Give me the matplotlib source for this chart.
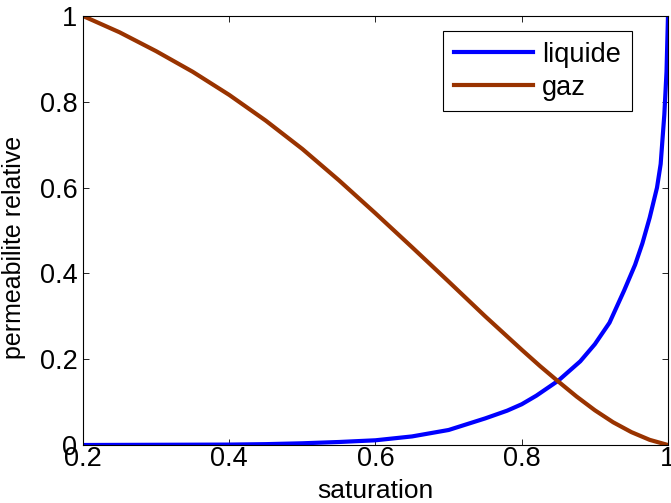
"""
Relative permeability curves (liquid / gas) versus saturation.
"""

import matplotlib
matplotlib.use("Agg")
import matplotlib.pyplot as plt


# =============================
# DATA
# =============================

SAT_LIQUIDE = [0.2, 0.3, 0.4, 0.45, 0.5, 0.55, 0.6, 0.65, 0.7, 0.75, 0.78,
               0.8, 0.82, 0.85, 0.88, 0.9, 0.92, 0.94, 0.955, 0.965, 0.975,
               0.985, 0.99, 0.995, 0.998, 1.0]
KR_LIQUIDE = [0.0, 0.0005, 0.001, 0.002, 0.004, 0.007, 0.011, 0.02, 0.035,
              0.062, 0.08, 0.095, 0.115, 0.15, 0.195, 0.235, 0.285, 0.36,
              0.42, 0.47, 0.53, 0.60, 0.655, 0.77, 0.87, 1.0]

SAT_GAZ = [0.2, 0.25, 0.3, 0.35, 0.4, 0.45, 0.5, 0.55, 0.6, 0.65, 0.7,
           0.75, 0.8, 0.825, 0.85, 0.875, 0.9, 0.925, 0.95, 0.975, 1.0]
KR_GAZ = [1.0, 0.962, 0.918, 0.870, 0.816, 0.756, 0.690, 0.617, 0.540,
          0.461, 0.381, 0.300, 0.222, 0.184, 0.148, 0.113, 0.081, 0.053,
          0.030, 0.012, 0.0]

X_TICKS = [0.2, 0.4, 0.6, 0.8, 1.0]
X_TICK_LABELS = ["0.2", "0.4", "0.6", "0.8", "1"]
Y_TICKS = [0, 0.2, 0.4, 0.6, 0.8, 1.0]
Y_TICK_LABELS = ["0", "0.2", "0.4", "0.6", "0.8", "1"]


# =============================
# PLOT
# =============================

plt.rcParams["font.family"] = ["Liberation Sans", "DejaVu Sans"]

fig = plt.figure(figsize=(6.71, 5.03), dpi=100)
ax = fig.add_axes([0.1237, 0.1153, 0.8718, 0.8529])

ax.plot(SAT_LIQUIDE, KR_LIQUIDE, color="#0000ff", lw=3.0, label="liquide")
ax.plot(SAT_GAZ, KR_GAZ, color="#993300", lw=3.0, label="gaz")

ax.set_xlim(0.2, 1.0)
ax.set_ylim(0, 1.0)
ax.set_xticks(X_TICKS)
ax.set_xticklabels(X_TICK_LABELS)
ax.set_yticks(Y_TICKS)
ax.set_yticklabels(Y_TICK_LABELS)

ax.tick_params(direction="in", length=4, width=0.6, labelsize=19.5,
               top=True, right=True, pad=4)
ax.tick_params(axis="x", pad=1)

for spine in ax.spines.values():
    spine.set_linewidth(0.8)
    spine.set_color("black")

ax.set_xlabel("saturation", fontsize=19)
ax.xaxis.set_label_coords(0.5, -0.08)
ax.set_ylabel("permeabilite relative", fontsize=18)
ax.yaxis.set_label_coords(-0.098, 0.46)

leg = ax.legend(loc="upper right", bbox_to_anchor=(0.9385, 0.965),
                borderaxespad=0, fontsize=19.5, handlelength=2.9,
                handletextpad=0.35, labelspacing=0.25, borderpad=0.4,
                fancybox=False, framealpha=1, edgecolor="black")
leg.get_frame().set_linewidth(0.8)

fig.savefig("out.png", dpi=100)
